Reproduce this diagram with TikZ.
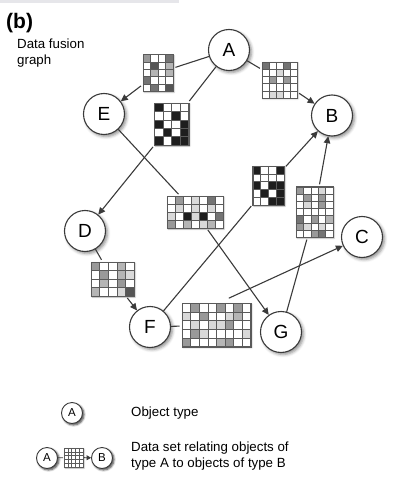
\documentclass[tikz,border=0pt]{standalone}
\usepackage{fontspec}
\setmainfont{Liberation Sans}
\usetikzlibrary{arrows.meta,calc,shadows.blur}
\definecolor{cw}{HTML}{FFFFFF}
\definecolor{cl}{HTML}{D9D9D9}
\definecolor{cm}{HTML}{B5B5B5}
\definecolor{cg}{HTML}{999999}
\definecolor{cd}{HTML}{747474}
\definecolor{cx}{HTML}{555555}
\definecolor{ck}{HTML}{1E1E1E}
\definecolor{linec}{HTML}{3A3A3A}
\definecolor{gridc}{HTML}{5A5A5A}
\definecolor{barc}{HTML}{E6E6EA}
\tikzset{
  obj/.style={circle, draw=linec, line width=1.1pt, fill=white, minimum size=41pt,
    inner sep=0pt, font=\fontsize{19}{19}\selectfont,
    blur shadow={shadow xshift=2pt, shadow yshift=-2pt, shadow blur radius=3pt, shadow opacity=45}},
  smallobj/.style={obj, minimum size=21pt, line width=0.9pt, font=\fontsize{11.5}{11.5}\selectfont,
    blur shadow={shadow xshift=1.5pt, shadow yshift=-1.5pt, shadow blur radius=2pt, shadow opacity=45}},
  matnode/.style={rectangle, inner sep=0pt, outer sep=0pt, fill=white,
    blur shadow={shadow xshift=1pt, shadow yshift=-1pt, shadow blur radius=1.5pt, shadow opacity=30}},
  matborder/.style={draw=gridc, line width=0.9pt},
  conn/.style={draw=linec, line width=1.1pt},
  tomat/.style={conn, shorten >=2.5pt},
  frommat/.style={conn, shorten <=2.5pt, -{Triangle[length=7pt,width=6.5pt]}},
  txt/.style={inner sep=0pt, font=\fontsize{13.3}{15.5}\selectfont, align=left},
}
\newcommand\datamat[7]{%
  \node[matnode, minimum width={#3*#5*1pt}, minimum height={#4*#6*1pt}] (#1) at (#2) {};
  \foreach \c [count=\i from 0] in {#7}{%
    \pgfmathtruncatemacro\rr{\i/#3}%
    \pgfmathtruncatemacro\qq{mod(\i,#3)}%
    \filldraw[fill=\c, draw=gridc, line width=0.5pt] ($(#1.north west)+(\qq*#5,\rr*#6)$) rectangle ++(#5,#6);
  }
  \draw[matborder] (#1.north west) rectangle (#1.south east);
}
\begin{document}
\begin{tikzpicture}[x=1pt,y=-1pt]
\useasboundingbox (0,0) rectangle (404,494);
\fill[barc] (0,0) rectangle (179,3);
\node[inner sep=0pt, anchor=base west, font=\fontsize{21}{21}\selectfont\bfseries] (lbl) at (6,28.5) {(b)};
\node[txt, anchor=north west] (title) at (17,39) {Data fusion\\graph};

% object types
\node[obj] (A) at (229,50) {A};
\node[obj] (B) at (332,115.5) {B};
\node[obj] (C) at (362,237) {C};
\node[obj] (D) at (85,231) {D};
\node[obj] (E) at (104,114) {E};
\node[obj] (F) at (150,327) {F};
\node[obj] (G) at (281,332) {G};

% data matrices
\datamat{M1}{158,73}{4}{5}{7.5}{7.3}{cg,cw,cw,cd, cw,cx,cw,cm, cw,cm,cw,cm, cd,cw,cw,cw, cw,cd,cw,cx}
\datamat{M2}{171.5,124}{4}{5}{8.7}{8.4}{ck,cw,cw,cw, cw,cw,ck,cw, ck,cw,cw,ck, cw,ck,cw,ck, ck,cw,ck,ck}
\datamat{M3}{279.5,80}{5}{5}{7}{7.2}{cd,cw,cw,cd,cw, cw,cw,cl,cw,cw, cw,cg,cw,cg,cw, cw,cw,cw,cw,cw, cw,cl,cl,cw,cw}
\datamat{M4}{195,212}{7}{4}{8}{8}{cw,cg,cw,cl,cw,cd,cw, cw,cl,cw,cl,cw,cl,cw, cl,cw,ck,cl,ck,cw,cd, cg,cw,cm,cw,cl,cm,cw}
\datamat{M5}{268.5,185.5}{4}{5}{7.8}{7.8}{ck,cw,cw,ck, cw,cw,cw,cw, ck,cw,ck,ck, cw,ck,cw,ck, cw,cw,ck,ck}
\datamat{M6}{314.5,212}{5}{7}{7.4}{7.2}{cg,cw,cw,cl,cw, cw,cg,cw,cg,cw, cw,cl,cw,cg,cw, cw,cw,cw,cw,cw, cd,cw,cg,cw,cm, cg,cl,cw,cl,cw, cw,cw,cg,cd,cw}
\datamat{M7}{112.5,279}{5}{4}{8.6}{8.5}{cg,cw,cw,cm,cw, cw,cg,cw,cm,cl, cw,cm,cw,cg,cw, cm,cw,cw,cl,cx}
\datamat{M8}{216.5,325}{8}{5}{8.6}{8.7}{cw,cg,cw,cw,cg,cw,cg,cw, cl,cw,cg,cw,cw,cl,cm,cw, cw,cl,cw,cl,cl,cg,cw,cw, cw,cg,cl,cw,cw,cw,cw,cl, cg,cw,cw,cw,cm,cg,cw,cw}

% connectors
\draw[tomat] (A) -- (M1);
\draw[frommat] (M1) -- (E);
\draw[tomat] (A) -- (M2);
\draw[frommat] (M2) -- (D);
\draw[tomat] (A) -- (M3);
\draw[frommat] (M3) -- (B);
\draw[tomat] (E) -- (M4);
\draw[frommat] (M4) -- (G);
\draw[tomat] (F) -- (M5);
\draw[frommat] (M5) -- (B);
\draw[tomat] (G) -- (M6);
\draw[frommat] (M6) -- (B);
\draw[tomat] (D) -- (M7);
\draw[frommat] (M7) -- (F);
\draw[tomat] (F) -- (M8);
\draw[frommat] ([shift={(10,-4)}]M8.north) -- (C);

% legend
\node[smallobj] (LA) at (72,413) {A};
\node[txt, anchor=west] (L1) at (131,413) {Object type};
\node[smallobj] (LA2) at (47,458) {A};
\datamat{LM}{73.5,457.5}{5}{5}{3.8}{3.8}{cw,cw,cw,cw,cw, cw,cw,cw,cw,cw, cw,cw,cw,cw,cw, cw,cw,cw,cw,cw, cw,cw,cw,cw,cw}
\node[smallobj] (LB) at (102,458) {B};
\draw[conn, line width=0.9pt, shorten >=1pt] (LA2) -- (LM);
\draw[conn, line width=0.9pt, shorten <=1pt, -{Triangle[length=4.5pt,width=5pt]}] (LM) -- (LB);
\node[txt, anchor=west] (L2) at (131,456) {Data set relating objects of\\type A to objects of type B};
\end{tikzpicture}
\end{document}
